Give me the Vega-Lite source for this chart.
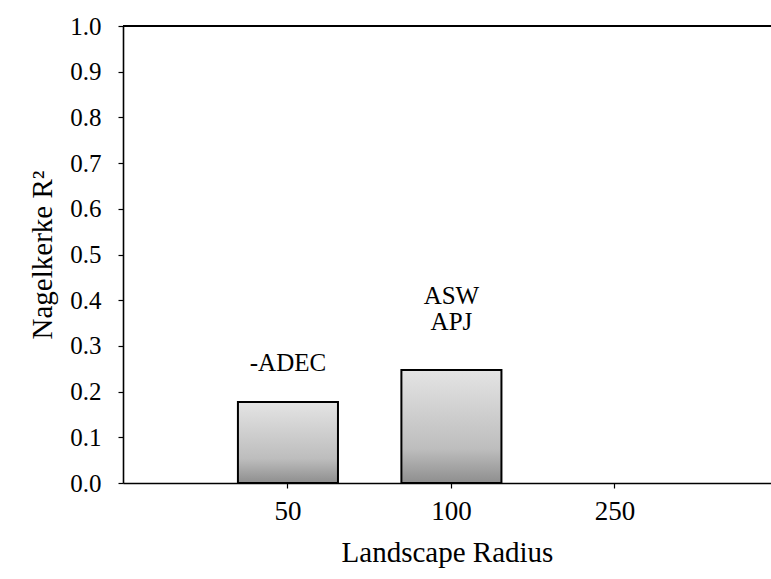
{
  "$schema": "https://vega.github.io/schema/vega-lite/v6.json",
  "width": 648,
  "height": 457,
  "autosize": {"type": "none"},
  "padding": {"left": 123, "top": 26, "right": 0, "bottom": 96},
  "background": "white",
  "config": {
    "view": {"stroke": null},
    "axis": {
      "domainColor": "black",
      "tickColor": "black",
      "labelColor": "black",
      "titleColor": "black",
      "labelFont": "Liberation Serif",
      "titleFont": "Liberation Serif",
      "titleFontWeight": "normal",
      "grid": false,
      "domainWidth": 1.6,
      "tickWidth": 1.2,
      "tickSize": 5
    }
  },
  "data": {
    "values": [
      {"radius": "50", "r2": 0.177, "label": "-ADEC"},
      {"radius": "100", "r2": 0.247, "label": "ASW\nAPJ"},
      {"radius": "250", "r2": 0, "label": ""}
    ]
  },
  "encoding": {
    "x": {
      "field": "radius",
      "type": "ordinal",
      "sort": ["50", "100", "250"],
      "scale": {"type": "band", "domain": ["50", "100", "250"], "paddingInner": 0.388, "paddingOuter": 0.676, "align": 0.52},
      "axis": {"title": "Landscape Radius", "labelAngle": 0, "labelFontSize": 27, "labelPadding": 10, "titleFontSize": 29, "titlePadding": 14}
    },
    "y": {
      "field": "r2",
      "type": "quantitative",
      "scale": {"domain": [0, 1], "nice": false},
      "axis": {"title": "Nagelkerke R²", "values": [0, 0.1, 0.2, 0.3, 0.4, 0.5, 0.6, 0.7, 0.8, 0.9, 1.0], "format": ".1f", "labelFontSize": 25, "labelPadding": 17, "titleFontSize": 29, "titlePadding": 12}
    }
  },
  "layer": [
    {
      "transform": [{"filter": "datum.r2 > 0"}],
      "mark": {
        "type": "bar",
        "stroke": "black",
        "strokeWidth": 2,
        "fill": {
          "gradient": "linear",
          "x1": 0, "y1": 1, "x2": 0, "y2": 0,
          "stops": [
            {"offset": 0, "color": "#8e8e8e"},
            {"offset": 0.3, "color": "#bdbdbd"},
            {"offset": 1, "color": "#e4e4e4"}
          ]
        }
      }
    },
    {
      "transform": [{"filter": "datum.radius == '50'"}],
      "mark": {"type": "text", "font": "Liberation Serif", "fontSize": 25, "baseline": "bottom", "dy": -26, "lineBreak": "\n", "lineHeight": 26, "color": "black"},
      "encoding": {"text": {"field": "label"}}
    },
    {
      "transform": [{"filter": "datum.radius == '100'"}],
      "mark": {"type": "text", "font": "Liberation Serif", "fontSize": 25, "baseline": "bottom", "dy": -61, "lineBreak": "\n", "lineHeight": 26, "color": "black"},
      "encoding": {"text": {"field": "label"}}
    },
    {
      "mark": {"type": "rule", "color": "black", "strokeWidth": 2},
      "encoding": {"y": {"datum": 1}, "x": {"value": 0}, "x2": {"value": 648}}
    }
  ]
}
